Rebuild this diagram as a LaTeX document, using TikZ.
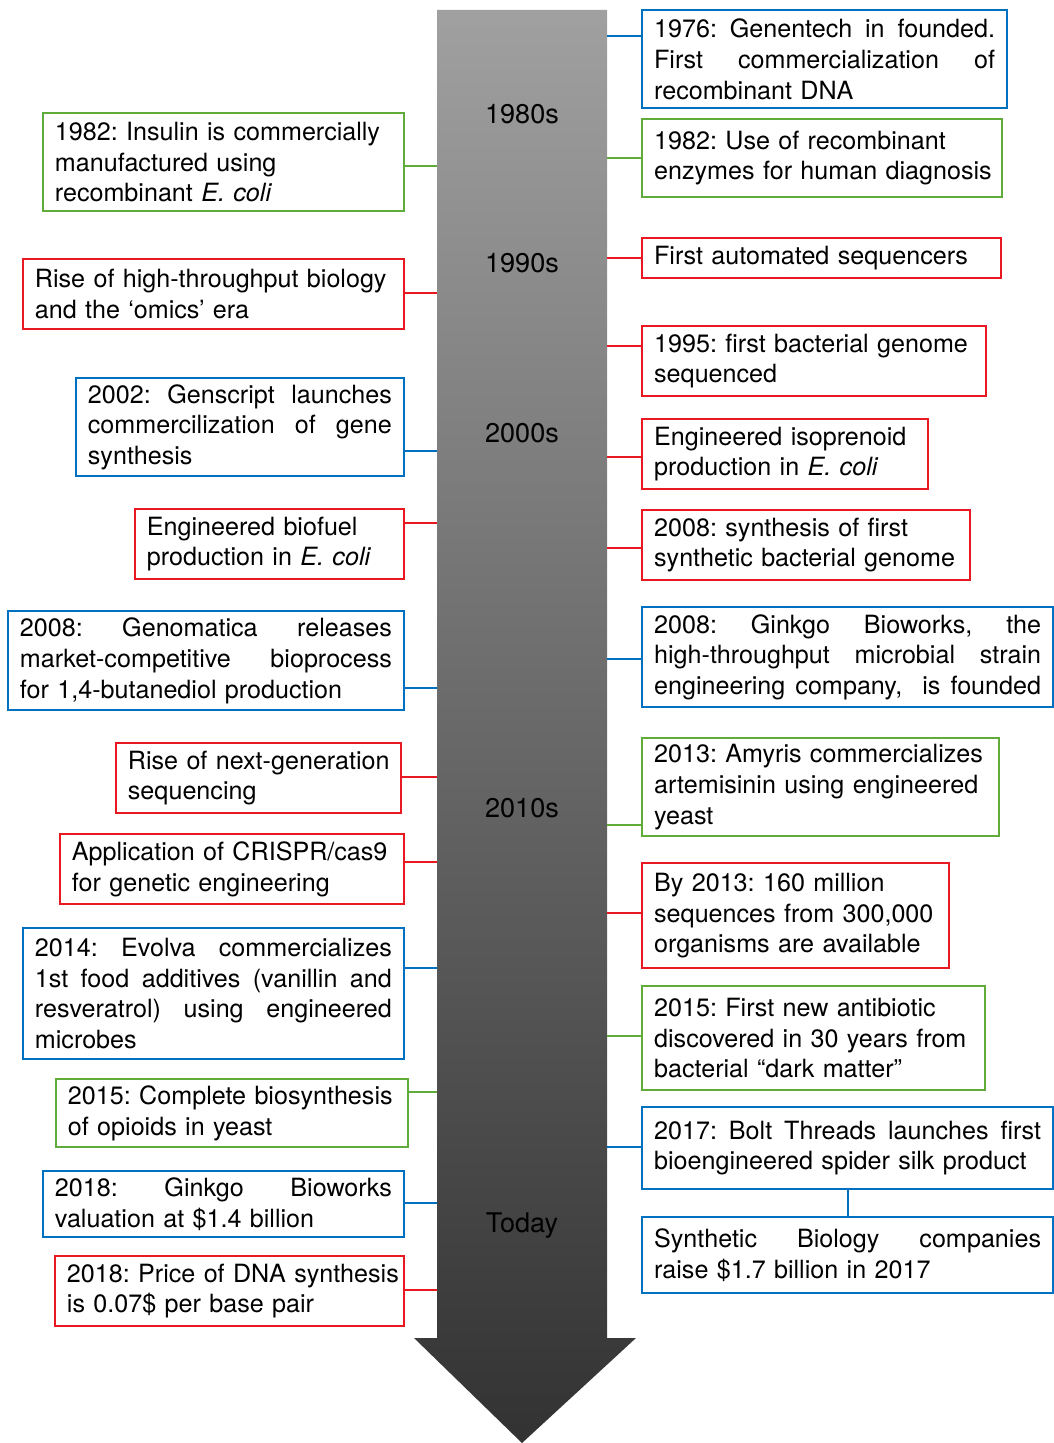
\documentclass[tikz,border=0pt]{standalone}
\usepackage{fontspec}
\setmainfont{TeX Gyre Heros}
\usepackage{tikz}

\definecolor{evblue}{RGB}{0,112,192}
\definecolor{evgreen}{RGB}{96,172,58}
\definecolor{evred}{RGB}{234,24,32}
\definecolor{shafttop}{RGB}{160,160,160}
\definecolor{shaftbot}{RGB}{50,50,50}
% one line of a box: justified (\jline) or flush left (\lline)
\newcommand{\jline}[1]{\leavevmode\hbox to\hsize{\spaceskip=0.278em plus 1fil\relax #1}}
\newcommand{\lline}[1]{\makebox[\hsize][l]{#1}}

\begin{document}
\begin{tikzpicture}[
  x=0.02cm, y=-0.02cm,
  entry/.style={draw, line width=1.3pt, fill=white, inner xsep=0.24cm, inner ysep=0.05cm, align=left,
    font=\fontsize{14.3}{17.5}\selectfont\frenchspacing},
  bluebox/.style={entry, draw=evblue},
  greenbox/.style={entry, draw=evgreen},
  redbox/.style={entry, draw=evred},
  rightbox/.style={anchor=north west},
  leftbox/.style={anchor=north east},
  era/.style={font=\fontsize{15.4}{18}\selectfont},
  link/.style={line width=1.2pt}
]
\useasboundingbox (0,0) rectangle (1054,1443);

% time arrow
\shade[top color=shafttop, bottom color=shaftbot]
  (437,10) -- (607,10) -- (607,1338) -- (636,1338) -- (522,1443) -- (414,1338) -- (437,1338) -- cycle;
\node[era] (e80) at (522,114) {1980s};
\node[era] (e90) at (522,263) {1990s};
\node[era] (e00) at (522,433) {2000s};
\node[era] (e10) at (522,808) {2010s};
\node[era] (etd) at (522,1226) {Today};

% right column
\node[bluebox, rightbox, text width=6.82cm, minimum height=1.96cm] (r1) at (641,9) {\jline{1976: Genentech in founded.}\\\jline{First commercialization of}\\\lline{recombinant DNA}};
\node[greenbox, rightbox, text width=6.72cm, minimum height=1.56cm] (r2) at (641,118) {\lline{1982: Use of recombinant}\\\lline{enzymes for human diagnosis}};
\node[redbox, rightbox, text width=6.70cm, minimum height=0.80cm] (r3) at (641,237) {\lline{First automated sequencers}};
\node[redbox, rightbox, text width=6.40cm, minimum height=1.40cm] (r4) at (641,325) {\lline{1995: first bacterial genome}\\\lline{sequenced}};
\node[redbox, rightbox, text width=5.24cm, minimum height=1.40cm] (r5) at (641,418) {\lline{Engineered isoprenoid}\\\lline{production in \emph{E. coli}}};
\node[redbox, rightbox, text width=6.08cm, minimum height=1.40cm] (r6) at (641,509) {\lline{2008: synthesis of first}\\\lline{synthetic bacterial genome}};
\node[bluebox, rightbox, text width=7.74cm, minimum height=2.00cm] (r7) at (641,606) {\jline{2008: Ginkgo Bioworks, the}\\\jline{high-throughput microbial strain}\\\jline{engineering company, \ is founded}};
\node[greenbox, rightbox, text width=6.66cm, minimum height=1.96cm] (r8) at (641,737) {\lline{2013: Amyris commercializes}\\\lline{artemisinin using engineered}\\\lline{yeast}};
\node[redbox, rightbox, text width=5.66cm, minimum height=2.10cm] (r9) at (641,862) {\lline{By 2013: 160 million}\\\lline{sequences from 300,000}\\\lline{organisms are available}};
\node[greenbox, rightbox, text width=6.38cm, minimum height=2.08cm] (r10) at (641,985) {\lline{2015: First new antibiotic}\\\lline{discovered in 30 years from}\\\lline{bacterial “dark matter”}};
\node[bluebox, rightbox, text width=7.74cm, minimum height=1.64cm] (r11) at (641,1106) {\jline{2017: Bolt Threads launches first}\\\lline{bioengineered spider silk product}};
\node[bluebox, rightbox, text width=7.74cm, minimum height=1.52cm] (r12) at (641,1216) {\jline{Synthetic Biology companies}\\\lline{raise \$1.7 billion in 2017}};

% left column
\node[greenbox, leftbox, text width=6.74cm, minimum height=1.96cm] (l1) at (405,112) {\lline{1982: Insulin is commercially}\\\lline{manufactured using}\\\lline{recombinant \emph{E. coli}}};
\node[redbox, leftbox, text width=7.14cm, minimum height=1.40cm] (l2) at (405,258) {\lline{Rise of high-throughput biology}\\\lline{and the ‘omics’ era}};
\node[bluebox, leftbox, text width=6.08cm, minimum height=1.96cm] (l3) at (405,377) {\jline{2002: Genscript launches}\\\jline{commercilization of gene}\\\lline{synthesis}};
\node[redbox, leftbox, text width=4.90cm, minimum height=1.40cm] (l4) at (405,508) {\lline{Engineered biofuel}\\\lline{production in \emph{E. coli}}};
\node[bluebox, leftbox, text width=7.44cm, minimum height=1.98cm] (l5) at (405,610) {\jline{2008: Genomatica releases}\\\jline{market-competitive bioprocess}\\\lline{for 1,4-butanediol production}};
\node[redbox, leftbox, text width=5.22cm, minimum height=1.40cm] (l6) at (402,742) {\lline{Rise of next-generation}\\\lline{sequencing}};
\node[redbox, leftbox, text width=6.40cm, minimum height=1.40cm] (l7) at (405,833) {\lline{Application of CRISPR/cas9}\\\lline{for genetic engineering}};
\node[bluebox, leftbox, text width=7.14cm, minimum height=2.62cm] (l8) at (405,927) {\jline{2014: Evolva commercializes}\\\jline{1st food additives (vanillin and}\\\jline{resveratrol) using engineered}\\\lline{microbes}};
\node[greenbox, leftbox, text width=6.56cm, minimum height=1.36cm] (l9) at (409,1078) {\lline{2015: Complete biosynthesis}\\\lline{of opioids in yeast}};
\node[bluebox, leftbox, text width=6.74cm, minimum height=1.32cm] (l10) at (405,1170) {\jline{2018: Ginkgo Bioworks}\\\lline{valuation at \$1.4 billion}};
\node[redbox, leftbox, text width=6.50cm, minimum height=1.40cm] (l11) at (405,1255) {\lline{2018: Price of DNA synthesis}\\\lline{is 0.07\$ per base pair}};

% connectors to the arrow
\foreach \n/\y/\c in {r1/36/evblue, r2/158/evgreen, r3/258/evred, r4/346/evred, r5/457/evred, r6/548/evred,
    r7/659/evblue, r8/825/evgreen, r9/913/evred, r10/1036/evgreen, r11/1147/evblue} {
  \coordinate (\n-c) at (607,\y);
  \draw[link, \c] (\n-c) -- (\n-c -| \n.west);
}
\foreach \n/\y/\c in {l1/166/evgreen, l2/293/evred, l3/451/evblue, l4/523/evred, l5/688/evblue, l6/777/evred,
    l7/862/evred, l8/968/evblue, l9/1092/evgreen, l10/1203/evblue, l11/1290/evred} {
  \coordinate (\n-c) at (437,\y);
  \draw[link, \c] (\n-c) -- (\n-c -| \n.east);
}
\draw[link, evblue] (r11.south) -- (r12.north);
\end{tikzpicture}
\end{document}
